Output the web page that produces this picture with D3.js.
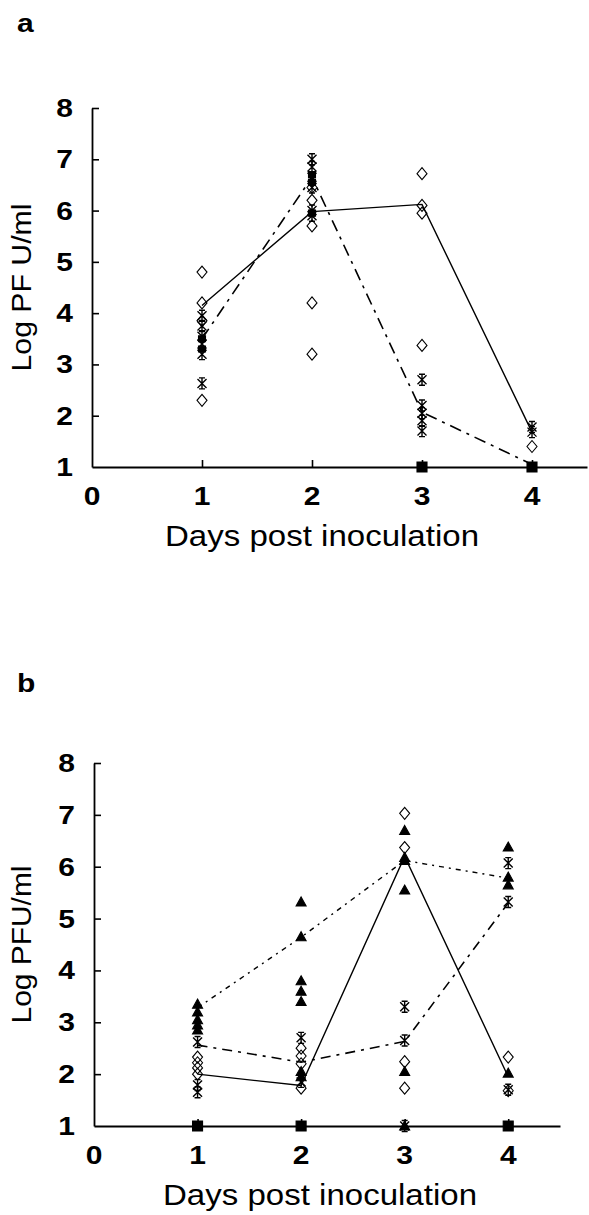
<!DOCTYPE html>
<html>
<head>
<meta charset="utf-8">
<script src="https://cdn.jsdelivr.net/npm/d3@7"></script>
<style>
  html, body { margin: 0; padding: 0; background: #fff; }
  svg { display: block; }
</style>
</head>
<body>
<svg id="chart" width="589" height="1215"></svg>
<script>
// ---------- data ----------
const days = [1, 2, 3, 4];
const yTicks = [1, 2, 3, 4, 5, 6, 7, 8];
const xTickLabels = [0, 1, 2, 3, 4];

// Panel a: lines (values at days 1..4)
const aSolid = [4.15, 5.98, 6.12, 1.68];
const aDashDot = [3.5, 6.65, 2.07, 1.05];
// Panel a: individual points per day
const aDiamonds = [[4.8, 4.2, 3.85, 2.3], [6.45, 6.2, 5.7, 4.2, 3.2], [6.72, 6.1, 5.95, 3.37], [1.4]];
const aAsterisks = [[3.95, 3.75, 3.55, 3.4, 3.2, 2.63], [7.0, 6.85, 6.65, 6.45, 6.0, 5.9], [2.7, 2.2, 2.05, 1.9, 1.7], [1.78, 1.68]];
const aSmallSquares = [[3.5, 3.3], [6.7, 6.55, 5.95], [], []];
const aSquares = [[], [], [1.0], [1.0]];

// Panel b: lines
const bSolid = [2.0, 1.78, 6.2, 1.95];
const bDotted = [3.28, 4.64, 6.12, 5.78];
const bDashDot = [2.56, 2.23, 2.63, 5.3];
// Panel b: points
const bTriangles = [[3.35, 3.2, 3.05, 2.95, 2.85], [5.32, 4.65, 3.8, 3.6, 3.4, 2.05, 1.95], [6.7, 6.18, 6.12, 5.55, 2.05, 1.0], [6.38, 5.8, 5.65, 2.02]];
const bAsterisks = [[2.62, 1.79, 1.65], [2.7, 1.85], [3.3, 2.65, 1.0], [6.07, 5.32, 1.7]];
const bDiamonds = [[2.33, 2.22, 2.12, 2.0], [2.5, 2.35, 2.2, 1.73], [7.03, 6.37, 2.24, 1.73], [2.33, 1.68]];
const bSquares = [[1.0], [1.0], [], [1.0]];

// ---------- marker shapes ----------
const shapes = {
  diamond: "M0,-6L5,0L0,6L-5,0Z",
  asterisk: "M-4.5,-4.5L4.5,4.5M-4.5,4.5L4.5,-4.5M0,-5.5L0,5.5M-3,-5.5L3,-5.5M-3,5.5L3,5.5",
  triangle: "M0,-5L5,4L-5,4Z",
  square: "M-5,-5h10v10h-10Z",
  smallSquare: "M-3.5,-3h7v6h-7Z"
};

const svg = d3.select("#chart");
const FONT = "'Liberation Sans', Arial, sans-serif";

function flatten(perDay) {
  const out = [];
  perDay.forEach((vals, i) => vals.forEach(v => out.push({ day: days[i], v })));
  return out;
}

function drawPanel(cfg) {
  const x = d3.scaleLinear().domain([0, 4.5]).range([cfg.x0, cfg.x1]);
  const y = d3.scaleLinear().domain([1, 8]).range([cfg.y1, cfg.y8]);
  const g = svg.append("g");

  // panel letter
  g.append("text").attr("transform", `translate(17,${cfg.letterY}) scale(1.2,1)`)
    .attr("font-family", FONT).attr("font-weight", "bold").attr("font-size", 25)
    .text(cfg.letter);

  // lines
  const line = d3.line().x((d, i) => x(days[i])).y(d => y(d));
  cfg.lines.forEach(L => {
    g.append("path").datum(L.values).attr("d", line)
      .attr("fill", "none").attr("stroke", "#000")
      .attr("stroke-width", L.width || 1.4)
      .attr("stroke-dasharray", L.dash || null);
  });

  // markers
  cfg.markers.forEach(M => {
    g.append("g").selectAll("path").data(flatten(M.values)).join("path")
      .attr("transform", d => `translate(${x(d.day)},${y(d.v)})`)
      .attr("d", shapes[M.shape])
      .attr("fill", M.filled ? "#000" : "none")
      .attr("stroke", "#000")
      .attr("stroke-width", M.shape === "asterisk" ? 1.4 : 1.1);
  });

  // axes
  const yAxis = d3.axisRight(y).tickValues(yTicks.slice(1)).tickSize(7).tickSizeOuter(0).tickFormat("");
  const ya = g.append("g").attr("transform", `translate(${cfg.x0},0)`).call(yAxis);
  const xAxis = d3.axisTop(x).tickValues(days).tickSize(7).tickSizeOuter(0).tickFormat("");
  const xa = g.append("g").attr("transform", `translate(0,${cfg.y1})`).call(xAxis);
  [ya, xa].forEach(a => {
    a.select(".domain").attr("stroke", "#000").attr("stroke-width", 1.8);
    a.selectAll(".tick line").attr("stroke", "#000").attr("stroke-width", 1.6);
  });

  // y tick labels
  g.append("g").selectAll("text").data(yTicks).join("text")
    .attr("transform", d => `translate(${cfg.x0 - 19},${y(d) + 9}) scale(1.2,1)`)
    .attr("text-anchor", "end")
    .attr("font-family", FONT).attr("font-weight", "bold").attr("font-size", 25)
    .text(d => d);

  // x tick labels
  g.append("g").selectAll("text").data(xTickLabels).join("text")
    .attr("transform", d => `translate(${x(d)},${cfg.y1 + 38}) scale(1.2,1)`)
    .attr("text-anchor", "middle")
    .attr("font-family", FONT).attr("font-weight", "bold").attr("font-size", 25)
    .text(d => d);

  // x title
  g.append("text")
    .attr("x", cfg.titleX).attr("y", cfg.y1 + 79)
    .attr("text-anchor", "middle")
    .attr("font-family", FONT).attr("font-size", 29)
    .attr("textLength", 314).attr("lengthAdjust", "spacingAndGlyphs")
    .text("Days post inoculation");

  // y title
  const yc = (cfg.y1 + cfg.y8) / 2;
  g.append("text")
    .attr("transform", `translate(31,${yc}) rotate(-90)`)
    .attr("text-anchor", "middle")
    .attr("font-family", FONT).attr("font-size", 27)
    .attr("textLength", cfg.yTitleLen).attr("lengthAdjust", "spacingAndGlyphs")
    .text(cfg.yTitle);
}

drawPanel({
  letter: "a", letterY: 32,
  x0: 92, x1: 587, y1: 467, y8: 108,
  titleX: 322, yTitle: "Log PF U/ml", yTitleLen: 168,
  lines: [
    { values: aSolid },
    { values: aDashDot, dash: "12,6,3,6", width: 1.6 }
  ],
  markers: [
    { shape: "diamond", values: aDiamonds },
    { shape: "asterisk", values: aAsterisks },
    { shape: "smallSquare", values: aSmallSquares, filled: true },
    { shape: "square", values: aSquares, filled: true }
  ]
});

drawPanel({
  letter: "b", letterY: 692,
  x0: 94, x1: 560, y1: 1126, y8: 763,
  titleX: 320, yTitle: "Log PFU/ml", yTitleLen: 158,
  lines: [
    { values: bSolid },
    { values: bDotted, dash: "5,5,2,5" },
    { values: bDashDot, dash: "10,6,3,6", width: 1.6 }
  ],
  markers: [
    { shape: "diamond", values: bDiamonds },
    { shape: "asterisk", values: bAsterisks },
    { shape: "triangle", values: bTriangles, filled: true },
    { shape: "square", values: bSquares, filled: true }
  ]
});
</script>
</body>
</html>
